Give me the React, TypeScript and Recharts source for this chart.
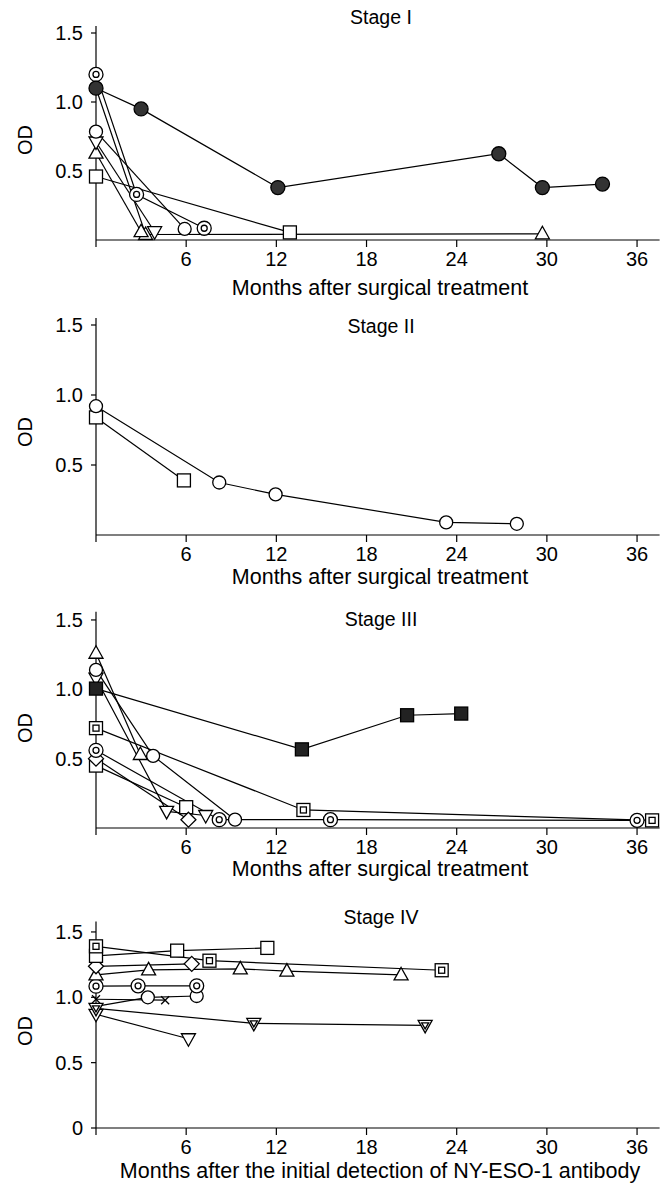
import React from "react";
import { LineChart, Line, XAxis, YAxis } from "recharts";

const FONT = '"Liberation Sans", Arial, Helvetica, sans-serif';

// axis ticks and labels
const xTicks = [0, 6, 12, 18, 24, 30, 36];
const yTicksUpper = [0.5, 1.0, 1.5];
const yTicksFull = [0, 0.5, 1.0, 1.5];
const stageTitles = ["Stage I", "Stage II", "Stage III", "Stage IV"];
const xTitles = [
  "Months after surgical treatment",
  "Months after surgical treatment",
  "Months after surgical treatment",
  "Months after the initial detection of NY-ESO-1 antibody",
];

// Stage I (months, OD)
const s1Ring = [{ x: 0, y: 1.2 }, { x: 2.7, y: 0.33 }, { x: 7.2, y: 0.085 }];
const s1Circle = [{ x: 0, y: 0.785 }, { x: 5.9, y: 0.08 }];
const s1Down = [{ x: 0, y: 0.71 }, { x: 3.9, y: 0.06 }];
const s1Up = [{ x: 0, y: 0.63 }, { x: 3.0, y: 0.06 }];
const s1UpLong = [{ x: 0, y: 1.1 }, { x: 3.3, y: 0.04 }, { x: 29.7, y: 0.045 }];
const s1Square = [{ x: 0, y: 0.46 }, { x: 12.9, y: 0.055 }];
const s1Filled = [
  { x: 0, y: 1.1 },
  { x: 3.0, y: 0.95 },
  { x: 12.1, y: 0.38 },
  { x: 26.8, y: 0.625 },
  { x: 29.7, y: 0.38 },
  { x: 33.7, y: 0.405 },
];

// Stage II
const s2Circle = [
  { x: 0, y: 0.92 },
  { x: 8.2, y: 0.375 },
  { x: 11.95, y: 0.29 },
  { x: 23.3, y: 0.09 },
  { x: 28.0, y: 0.08 },
];
const s2Square = [{ x: 0, y: 0.84 }, { x: 5.85, y: 0.39 }];

// Stage III
const s3Filled = [{ x: 0, y: 1.005 }, { x: 13.7, y: 0.567 }, { x: 20.7, y: 0.813 }, { x: 24.3, y: 0.825 }];
const s3Up = [{ x: 0, y: 1.26 }, { x: 2.95, y: 0.53 }];
const s3Circle = [{ x: 0, y: 1.14 }, { x: 3.8, y: 0.52 }, { x: 9.25, y: 0.06 }];
const s3Down = [{ x: 0, y: 1.08 }, { x: 4.7, y: 0.12 }, { x: 7.3, y: 0.09 }];
const s3DSquare = [{ x: 0, y: 0.72 }, { x: 13.8, y: 0.13 }, { x: 37.0, y: 0.055 }];
const s3Ring = [{ x: 0, y: 0.56 }, { x: 8.2, y: 0.06 }, { x: 15.6, y: 0.06 }, { x: 36.0, y: 0.055 }];
const s3Diamond = [{ x: 0, y: 0.5 }, { x: 6.15, y: 0.06 }];
const s3Square = [{ x: 0, y: 0.45 }, { x: 6.0, y: 0.15 }];

// Stage IV
const s4DSquare = [{ x: 0, y: 1.39 }, { x: 7.55, y: 1.28 }, { x: 23.0, y: 1.207 }];
const s4Square = [{ x: 0, y: 1.317 }, { x: 5.4, y: 1.357 }, { x: 11.4, y: 1.378 }];
const s4Diamond = [{ x: 0, y: 1.237 }, { x: 6.37, y: 1.256 }];
const s4Up = [
  { x: 0, y: 1.171 },
  { x: 3.5, y: 1.21 },
  { x: 9.6, y: 1.218 },
  { x: 12.7, y: 1.2 },
  { x: 20.3, y: 1.171 },
];
const s4Ring = [{ x: 0, y: 1.085 }, { x: 2.8, y: 1.088 }, { x: 6.7, y: 1.088 }];
const s4Circle = [{ x: 0, y: 0.93 }, { x: 3.45, y: 1.0 }, { x: 6.7, y: 1.01 }];
const s4Cross = [{ x: 0, y: 0.985 }, { x: 4.6, y: 0.978 }];
const s4DDown = [{ x: 0, y: 0.915 }, { x: 10.5, y: 0.8 }, { x: 21.9, y: 0.785 }];
const s4Down = [{ x: 0, y: 0.87 }, { x: 6.15, y: 0.683 }];

const stageSeries = [
  [
    { data: s1Square, marker: "square" },
    { data: s1UpLong, marker: "up", hideFirst: true },
    { data: s1Up, marker: "up" },
    { data: s1Down, marker: "down" },
    { data: s1Circle, marker: "circle" },
    { data: s1Ring, marker: "ring" },
    { data: s1Filled, marker: "dot" },
  ],
  [
    { data: s2Square, marker: "square" },
    { data: s2Circle, marker: "circle" },
  ],
  [
    { data: s3Square, marker: "square" },
    { data: s3Diamond, marker: "diamond" },
    { data: s3Ring, marker: "ring" },
    { data: s3DSquare, marker: "dsquare" },
    { data: s3Down, marker: "down" },
    { data: s3Circle, marker: "circle" },
    { data: s3Up, marker: "up" },
    { data: s3Filled, marker: "fsquare" },
  ],
  [
    { data: s4Down, marker: "down" },
    { data: s4DDown, marker: "ddown" },
    { data: s4Cross, marker: "cross" },
    { data: s4Circle, marker: "circle", hideFirst: true },
    { data: s4Ring, marker: "ring" },
    { data: s4Up, marker: "up" },
    { data: s4Diamond, marker: "diamond" },
    { data: s4Square, marker: "square" },
    { data: s4DSquare, marker: "dsquare" },
  ],
];

// page layout of each panel
const layouts = [
  { top: 0, zeroY: 240, ppu: 138, yTop: 1.55, ticks: yTicksUpper, titleY: 18, xTitleY: 289, odY: 140 },
  { top: 290, zeroY: 535, ppu: 140, yTop: 1.55, ticks: yTicksUpper, titleY: 327, xTitleY: 578, odY: 432 },
  { top: 590, zeroY: 828, ppu: 138.7, yTop: 1.56, ticks: yTicksUpper, titleY: 620, xTitleY: 870, odY: 728 },
  { top: 888, zeroY: 1128, ppu: 130.7, yTop: 1.58, ticks: yTicksFull, titleY: 918, xTitleY: 1172, odY: 1031 },
];

const CHART_H = 300;
const X_AXIS_H = 40;
const Y_AXIS_W = 50;

function Marker({ cx, cy, marker }: { cx: number; cy: number; marker: string }) {
  const st = { stroke: "#000", strokeWidth: 1.3, fill: "#fff" };
  switch (marker) {
    case "circle":
      return <circle cx={cx} cy={cy} r={6.5} {...st} />;
    case "ring":
      return (
        <g>
          <circle cx={cx} cy={cy} r={7} {...st} />
          <circle cx={cx} cy={cy} r={3} {...st} />
        </g>
      );
    case "dot":
      return <circle cx={cx} cy={cy} r={7} fill="#333" stroke="#000" strokeWidth={1.3} />;
    case "square":
      return <rect x={cx - 6.5} y={cy - 6.5} width={13} height={13} {...st} />;
    case "dsquare":
      return (
        <g>
          <rect x={cx - 6.5} y={cy - 6.5} width={13} height={13} {...st} />
          <rect x={cx - 3} y={cy - 3} width={6} height={6} {...st} />
        </g>
      );
    case "fsquare":
      return <rect x={cx - 6.5} y={cy - 6.5} width={13} height={13} fill="#222" stroke="#000" strokeWidth={1.3} />;
    case "up":
      return <polygon points={`${cx},${cy - 7.5} ${cx + 7},${cy + 5} ${cx - 7},${cy + 5}`} {...st} />;
    case "down":
      return <polygon points={`${cx - 7},${cy - 5} ${cx + 7},${cy - 5} ${cx},${cy + 7.5}`} {...st} />;
    case "ddown":
      return (
        <g>
          <polygon points={`${cx - 7},${cy - 5} ${cx + 7},${cy - 5} ${cx},${cy + 7.5}`} {...st} />
          <polygon points={`${cx - 3.5},${cy - 2.5} ${cx + 3.5},${cy - 2.5} ${cx},${cy + 3.5}`} {...st} />
        </g>
      );
    case "diamond":
      return <polygon points={`${cx},${cy - 7.5} ${cx + 7.5},${cy} ${cx},${cy + 7.5} ${cx - 7.5},${cy}`} {...st} />;
    case "cross":
      return (
        <g stroke="#000" strokeWidth={1.3}>
          <line x1={cx - 4} y1={cy - 4} x2={cx + 4} y2={cy + 4} />
          <line x1={cx - 4} y1={cy + 4} x2={cx + 4} y2={cy - 4} />
        </g>
      );
    default:
      return <g />;
  }
}

function PageText({ x, y, text, size, rotate }: { x: number; y: number; text: string; size: number; rotate?: boolean }) {
  return (
    <div
      style={{
        position: "absolute",
        left: x,
        top: y,
        transform: `translate(-50%, -50%)${rotate ? " rotate(-90deg)" : ""}`,
        fontFamily: FONT,
        fontSize: size,
        lineHeight: 1,
        whiteSpace: "nowrap",
        color: "#000",
      }}
    >
      {text}
    </div>
  );
}

function StagePanel({ idx }: { idx: number }) {
  const lay = layouts[idx];
  const plotBottom = lay.zeroY - lay.top;
  const marginTop = plotBottom - lay.yTop * lay.ppu;
  const marginBottom = CHART_H - plotBottom - X_AXIS_H;
  const tickStyle = { fill: "#000", fontSize: 20, fontFamily: FONT };

  return (
    <div style={{ position: "absolute", left: 0, top: lay.top, width: 669, height: CHART_H }}>
      <LineChart
        width={669}
        height={CHART_H}
        margin={{ top: marginTop, right: 9.4, bottom: marginBottom, left: 96 - Y_AXIS_W }}
      >
        <XAxis
          dataKey="x"
          type="number"
          domain={[0, 37.5]}
          ticks={xTicks}
          tickFormatter={(v: number) => (v === 0 ? "" : String(v))}
          height={X_AXIS_H}
          tick={tickStyle}
          tickSize={7}
          tickMargin={5}
          axisLine={{ stroke: "#000", strokeWidth: 1.2 }}
          tickLine={{ stroke: "#000", strokeWidth: 1.2 }}
        />
        <YAxis
          dataKey="y"
          type="number"
          domain={[0, lay.yTop]}
          ticks={lay.ticks}
          tickFormatter={(v: number) => (v === 0 ? "0" : v.toFixed(1))}
          width={Y_AXIS_W}
          tick={tickStyle}
          tickSize={5}
          tickMargin={8}
          axisLine={{ stroke: "#000", strokeWidth: 1.2 }}
          tickLine={{ stroke: "#000", strokeWidth: 1.2 }}
        />
        {stageSeries[idx].map((s, si) => (
          <Line
            key={si}
            data={s.data}
            dataKey="y"
            type="linear"
            stroke="#000"
            strokeWidth={1.2}
            isAnimationActive={false}
            activeDot={false}
            dot={(p: any) =>
              s.hideFirst && p.index === 0 ? (
                <g key={`d-${si}-${p.index}`} />
              ) : (
                <Marker key={`d-${si}-${p.index}`} cx={p.cx} cy={p.cy} marker={s.marker} />
              )
            }
          />
        ))}
      </LineChart>
      <PageText x={381} y={lay.titleY - lay.top} text={stageTitles[idx]} size={19.5} />
      <PageText x={380} y={lay.xTitleY - lay.top} text={xTitles[idx]} size={21.5} />
      <PageText x={25} y={lay.odY - lay.top} text="OD" size={20} rotate />
    </div>
  );
}

export default function App() {
  return (
    <div
      style={{
        position: "fixed",
        left: 0,
        top: 0,
        width: 669,
        height: 1189,
        overflow: "hidden",
        background: "#fff",
      }}
    >
      {stageTitles.map((_, i) => (
        <StagePanel key={i} idx={i} />
      ))}
    </div>
  );
}
